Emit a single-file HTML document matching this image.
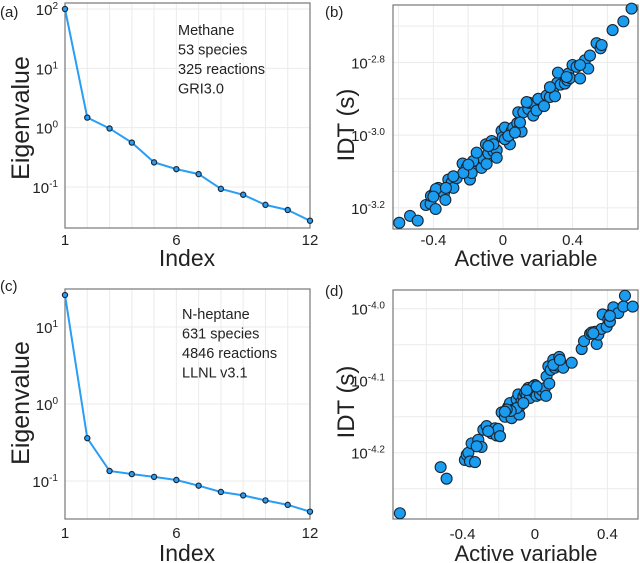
<!DOCTYPE html>
<html><head><meta charset="utf-8"><style>
html,body{margin:0;padding:0;background:#fff;}
svg{display:block;font-family:"Liberation Sans",sans-serif;}
</style></head><body>
<svg id="fig" width="640" height="563" viewBox="0 0 640 563"></svg>
<script>
// ---- Panel (a) data: methane eigenvalues
const idxA = [1,2,3,4,5,6,7,8,9,10,11,12];
const eigA = [100,1.48,0.97,0.56,0.26,0.20,0.165,0.093,0.074,0.050,0.041,0.027];
// ---- Panel (c) data: n-heptane eigenvalues
const idxC = [1,2,3,4,5,6,7,8,9,10,11,12];
const eigC = [26,0.36,0.135,0.123,0.113,0.103,0.087,0.072,0.065,0.056,0.049,0.040];
// ---- Panel (b) data: active variable vs log10 IDT
const bX = [-0.596,-0.534,-0.490,-0.443,-0.416,-0.387,-0.414,-0.391,-0.372,-0.339,-0.331,-0.385,-0.314,-0.295,-0.285,-0.266,-0.232,-0.209,-0.193,-0.190,-0.167,-0.159,-0.146,-0.132,-0.123,-0.113,-0.094,-0.098,-0.084,-0.065,-0.055,-0.036,-0.008,-0.002,0.011,0.031,0.040,0.050,0.059,0.082,0.094,0.107,0.088,0.117,0.146,0.151,0.174,0.184,0.203,0.193,0.236,0.251,0.270,0.289,0.299,0.312,0.331,0.356,0.375,0.370,0.316,0.385,0.400,0.423,0.443,0.471,0.490,0.500,0.538,0.561,0.567,0.630,0.692,0.739,0.011,-0.055,-0.084,-0.180,-0.171,-0.228,-0.151,-0.328,-0.285,-0.400,0.031,0.098,0.136,0.270,0.366,0.443,0.069,-0.036,-0.199];
const bY = [-3.241,-3.222,-3.235,-3.192,-3.189,-3.203,-3.167,-3.157,-3.145,-3.159,-3.178,-3.148,-3.122,-3.130,-3.145,-3.118,-3.078,-3.090,-3.113,-3.122,-3.082,-3.071,-3.057,-3.076,-3.090,-3.065,-3.079,-3.025,-3.050,-3.016,-3.044,-3.041,-2.988,-3.006,-2.979,-3.006,-3.025,-2.988,-2.979,-2.967,-2.983,-2.990,-2.937,-2.937,-2.928,-2.911,-2.946,-2.917,-2.900,-2.932,-2.920,-2.891,-2.895,-2.872,-2.893,-2.856,-2.861,-2.858,-2.831,-2.849,-2.828,-2.843,-2.807,-2.812,-2.844,-2.794,-2.817,-2.781,-2.747,-2.761,-2.752,-2.711,-2.687,-2.652,-3.011,-3.025,-3.030,-3.104,-3.071,-3.104,-3.048,-3.145,-3.113,-3.169,-3.002,-2.965,-2.909,-2.868,-2.840,-2.807,-2.993,-3.062,-3.081];
// ---- Panel (d) data
const dX = [-0.746,-0.521,-0.488,-0.387,-0.377,-0.368,-0.359,-0.331,-0.350,-0.313,-0.295,-0.285,-0.267,-0.239,-0.221,-0.212,-0.203,-0.193,-0.184,-0.166,-0.147,-0.138,-0.129,-0.120,-0.101,-0.092,-0.087,-0.083,-0.074,-0.064,-0.055,-0.046,-0.037,-0.028,-0.009,0.000,0.009,0.028,0.037,0.055,0.061,0.064,0.079,0.074,0.087,0.101,0.110,0.123,0.134,0.142,0.156,0.203,0.258,0.271,0.304,0.313,0.331,0.341,0.350,0.368,0.374,0.396,0.405,0.414,0.424,0.433,0.460,0.488,0.497,0.540,-0.101,-0.064,-0.134,-0.156,-0.009,0.101,0.138,0.322,0.414,-0.258,-0.322,-0.046,0.009,-0.166];
const dY = [-4.284,-4.220,-4.236,-4.210,-4.203,-4.200,-4.212,-4.213,-4.187,-4.182,-4.192,-4.168,-4.163,-4.173,-4.166,-4.176,-4.167,-4.177,-4.144,-4.150,-4.136,-4.131,-4.152,-4.140,-4.126,-4.119,-4.147,-4.135,-4.129,-4.122,-4.117,-4.119,-4.110,-4.124,-4.115,-4.106,-4.121,-4.119,-4.113,-4.110,-4.121,-4.094,-4.104,-4.080,-4.085,-4.071,-4.082,-4.079,-4.067,-4.075,-4.082,-4.075,-4.056,-4.045,-4.035,-4.033,-4.032,-4.049,-4.036,-4.028,-4.008,-4.025,-4.015,-4.018,-4.006,-3.998,-4.006,-3.997,-3.982,-3.997,-4.138,-4.131,-4.142,-4.140,-4.108,-4.078,-4.071,-4.034,-4.010,-4.170,-4.191,-4.113,-4.108,-4.143];
// tick arrays
const aYTicks = [2,1,0,-1];
const cYTicks = [1,0,-1];
const bYTicks = ['-2.8','-3.0','-3.2'];
const dYTicks = ['-4.0','-4.1','-4.2'];
const scatXTicks = [-0.4,0,0.4];
const idxTicks = [1,6,12];

const NS='http://www.w3.org/2000/svg';
const svg=document.getElementById('fig');
function el(tag,attrs,parent){const e=document.createElementNS(NS,tag);for(const k in attrs)e.setAttribute(k,attrs[k]);(parent||svg).appendChild(e);return e;}
function lin(d0,d1,p0,p1){return v=>p0+(v-d0)/(d1-d0)*(p1-p0);}

function frame(x0,y0,x1,y1,name){
  const r=el('rect',{x:x0,y:y0,width:x1-x0,height:y1-y0,fill:'none',stroke:'#777','stroke-width':1.2});
  
  
}
function grid(x1,y1,x2,y2){el('line',{x1:x1,y1:y1,x2:x2,y2:y2,stroke:'#ebebeb','stroke-width':1});}
function text(x,y,str,size,anchor,name,rot){
  const t=el('text',{x:x,y:y,'font-size':size,'text-anchor':anchor||'start',fill:'#222'});
  if(rot)t.setAttribute('transform','rotate(-90 '+x+' '+y+')');
  t.textContent=str;
  
  
  return t;
}
function expLabel(x,y,exp,name){
  const t=el('text',{x:x,y:y,'font-size':15,'text-anchor':'end',fill:'#222'});
  
  
  const a=el('tspan',{},t);a.textContent='10';
  const b=el('tspan',{dy:-6,'font-size':10},b0=null||t);b.textContent=exp;
}

// ---------- Panel (a)
(function(){
  const L=65,R=310,T=3,B=228;
  const xs=lin(1,12,L,R), ys=lin(2,-1,9,187);
  for(let i=1;i<=12;i++)grid(xs(i),T,xs(i),B);
  for(const d of aYTicks)grid(L,ys(d),R,ys(d));
  frame(L,T,R,B,'panel-a-plot-area');
  let pts=idxA.map((v,i)=>xs(v)+','+ys(Math.log10(eigA[i]))).join(' ');
  const pl=el('polyline',{points:pts,fill:'none',stroke:'#2a9df4','stroke-width':2});
  
  
  idxA.forEach((v,i)=>{
    const c=el('circle',{cx:xs(v),cy:ys(Math.log10(eigA[i])),r:2.6,fill:'#2a9df4',stroke:'#1a2a3a','stroke-width':1.2});
    
    
  });
  for(const d of aYTicks)expLabel(58,ys(d)+6,String(d),'y-tick-label');
  for(const t of idxTicks)text(xs(t),245,String(t),15,'middle','x-tick-label');
  text(187,266,'Index',23,'middle','x-axis-title');
  text(29,118,'Eigenvalue',25,'middle','y-axis-title',true);
  ['Methane','53 species','325 reactions','GRI3.0'].forEach((s,i)=>text(178,35+i*19.5,s,14.5,'start','annotation-line'));
  text(0,17,'(a)',15,'start','panel-label-a');
})();

// ---------- Panel (c)
(function(){
  const L=65,R=310,T=289,B=519;
  const xs=lin(1,12,L,R), ys=lin(1,-1,327,481);
  for(let i=1;i<=12;i++)grid(xs(i),T,xs(i),B);
  for(const d of cYTicks)grid(L,ys(d),R,ys(d));
  frame(L,T,R,B,'panel-c-plot-area');
  let pts=idxC.map((v,i)=>xs(v)+','+ys(Math.log10(eigC[i]))).join(' ');
  const pl=el('polyline',{points:pts,fill:'none',stroke:'#2a9df4','stroke-width':2});
  
  
  idxC.forEach((v,i)=>{
    const c=el('circle',{cx:xs(v),cy:ys(Math.log10(eigC[i])),r:2.6,fill:'#2a9df4',stroke:'#1a2a3a','stroke-width':1.2});
    
    
  });
  for(const d of cYTicks)expLabel(58,ys(d)+6,String(d),'y-tick-label');
  for(const t of idxTicks)text(xs(t),538,String(t),15,'middle','x-tick-label');
  text(187,561,'Index',23,'middle','x-axis-title');
  text(29,403,'Eigenvalue',25,'middle','y-axis-title',true);
  ['N-heptane','631 species','4846 reactions','LLNL v3.1'].forEach((s,i)=>text(182,319+i*19.5,s,14.5,'start','annotation-line'));
  text(0,291,'(c)',15,'start','panel-label-c');
})();

// ---------- scatter panels
function scatter(o){
  const xs=lin(o.x0,o.x1,o.L,o.R), ys=lin(o.y0,o.y1,o.B,o.T);
  for(let g=-0.8;g<=0.8001;g+=0.2){const p=xs(g);if(p>o.L&&p<o.R)grid(p,o.T,p,o.B);}
  for(let g=o.gy0;g<=o.y1;g+=o.gstep){const p=ys(g);if(p>o.T&&p<o.B)grid(o.L,p,o.R,p);}
  frame(o.L,o.T,o.R,o.B,o.name+'-plot-area');
  o.X.forEach((v,i)=>{
    const c=el('circle',{cx:xs(v),cy:ys(o.Y[i]),r:5.5,fill:'#1a9cf0',stroke:'#1b2633','stroke-width':1.1});
    
    
  });
  o.yt.forEach(s=>expLabel(o.L-8,ys(parseFloat(s))+6,s,'y-tick-label'));
  scatXTicks.forEach(t=>text(xs(t),o.xtY,String(t),15,'middle','x-tick-label'));
  text(526,o.titleY,'Active variable',22,'middle','x-axis-title');
  text(354,o.ytitleY,'IDT (s)',24,'middle','y-axis-title',true);
}
scatter({name:'panel-b',L:393,R:638,T:5,B:229,x0:-0.632,x1:0.776,y0:-3.258,y1:-2.642,gy0:-3.3,gstep:0.1,X:bX,Y:bY,yt:bYTicks,xtY:245,titleY:266,ytitleY:125});
scatter({name:'panel-d',L:393,R:638,T:290,B:519,x0:-0.784,x1:0.569,y0:-4.292,y1:-3.974,gy0:-4.3,gstep:0.05,X:dX,Y:dY,yt:dYTicks,xtY:539,titleY:561,ytitleY:402});
text(325,17,'(b)',15,'start','panel-label-b');
text(325,296,'(d)',15,'start','panel-label-d');
</script>
</body></html>
